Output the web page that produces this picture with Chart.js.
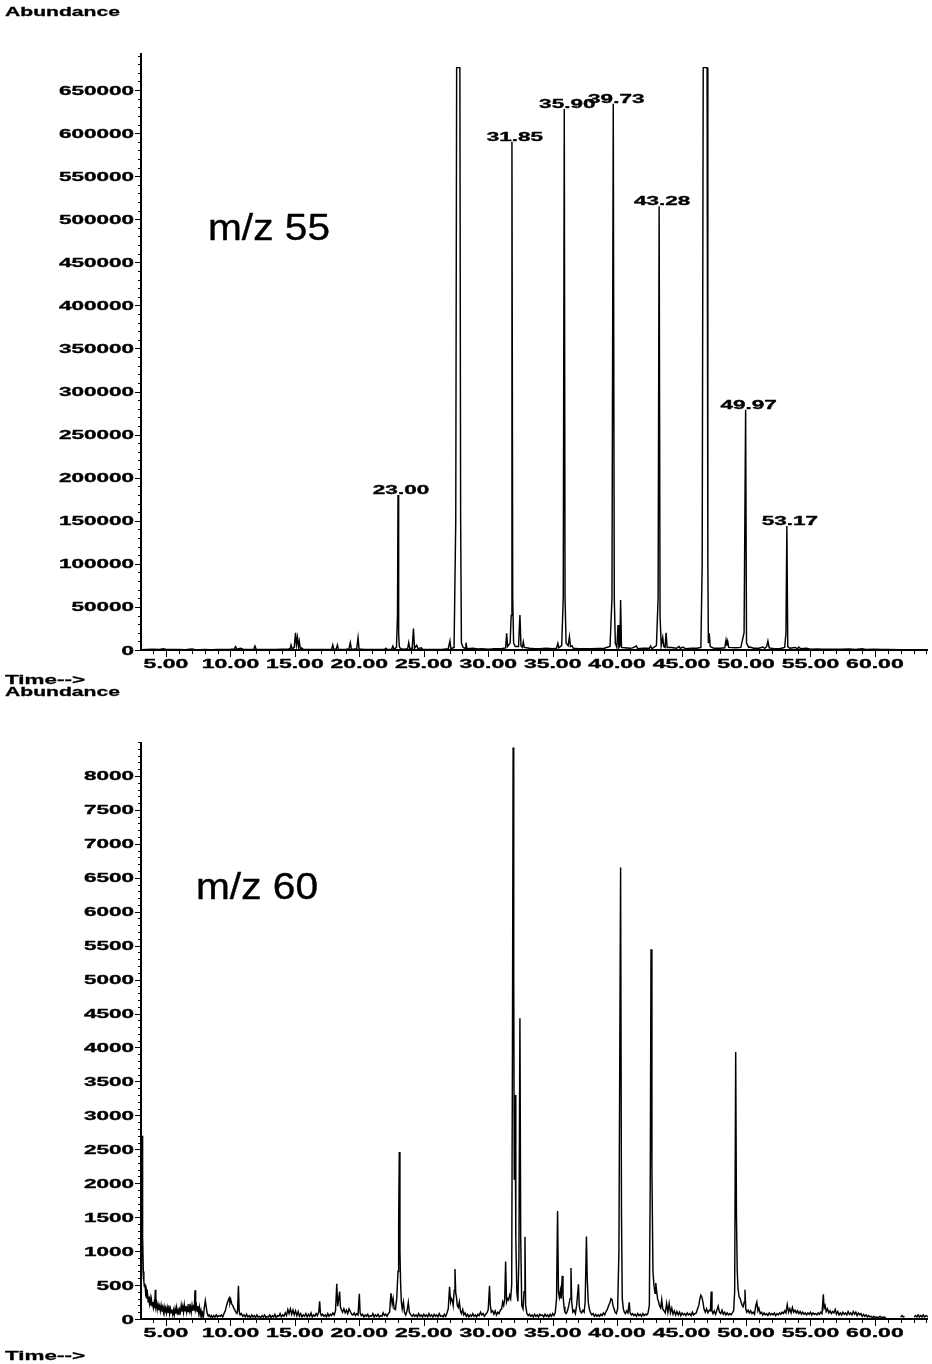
<!DOCTYPE html>
<html><head><meta charset="utf-8">
<script src="https://cdn.jsdelivr.net/npm/chart.js@4"></script>
<style>
html,body{margin:0;padding:0;background:#fff;}
#wrap{position:relative;width:932px;height:1364px;overflow:hidden;}
canvas{position:absolute;left:0;top:0;}
</style></head><body>
<div id="wrap">
<canvas id="c55" width="932" height="1364"></canvas>
<canvas id="c60" width="932" height="1364"></canvas>
</div>
<script>
// ---------------- DATA ----------------
const timeMin = 3.06, timeMax = 64.12;
const xTickValues = [5,10,15,20,25,30,35,40,45,50,55,60];
const xTickLabels = ["5.00","10.00","15.00","20.00","25.00","30.00","35.00","40.00","45.00","50.00","55.00","60.00"];

const yTicks55 = [0,50000,100000,150000,200000,250000,300000,350000,400000,450000,500000,550000,600000,650000];
const yTicks60 = [0,500,1000,1500,2000,2500,3000,3500,4000,4500,5000,5500,6000,6500,7000,7500,8000];

// m/z 55 trace : [time (min), abundance]
const trace55 = [
[3.06,300],[3.5,600],[4.0,800],[4.5,500],[4.8,1500],[5.0,700],[5.5,500],[6.0,600],[6.5,400],[7.0,1200],[7.2,500],[7.6,400],[8.0,700],[8.5,400],[9.0,500],[9.5,600],[10.0,800],[10.3,1200],[10.4,4000],[10.5,800],[10.8,2000],[11.0,600],[11.5,500],[11.8,900],[11.9,4600],[12.0,600],[12.5,500],[13.0,500],[13.5,600],[14.0,800],[14.5,1000],[14.65,2000],[14.7,5800],[14.8,1000],[14.95,3000],[15.05,20000],[15.12,6000],[15.2,14700],[15.28,4000],[15.34,10000],[15.42,1500],[15.52,2500],[15.65,800],[16.0,600],[16.5,600],[17.0,500],[17.5,700],[17.85,1000],[17.94,5800],[18.02,800],[18.2,1000],[18.3,5800],[18.38,800],[18.7,700],[19.0,900],[19.2,1500],[19.3,8500],[19.38,1000],[19.6,1200],[19.8,1500],[19.9,14300],[19.98,1200],[20.3,800],[20.7,600],[21.0,600],[21.5,500],[21.95,800],[22.07,2000],[22.15,700],[22.5,900],[22.6,4600],[22.68,800],[22.88,3000],[22.96,40000],[23.0,180000],[23.05,20000],[23.1,4000],[23.2,1500],[23.5,1000],[23.75,1500],[23.83,8500],[23.92,1500],[24.1,2000],[24.2,24800],[24.28,2000],[24.45,5400],[24.55,1500],[24.8,2500],[24.9,800],[25.5,700],[26.0,700],[26.5,800],[26.9,1500],[27.03,10500],[27.1,1500],[27.35,3000],[27.48,150000],[27.55,676000],[27.8,676000],[27.86,150000],[27.92,8000],[28.05,3000],[28.2,2000],[28.27,8500],[28.35,1500],[28.8,2000],[29.2,1200],[29.5,1500],[30.0,1000],[30.5,1500],[31.0,1500],[31.35,2500],[31.43,19400],[31.5,4000],[31.7,8000],[31.78,40000],[31.84,590000],[31.9,60000],[31.97,8000],[32.1,4000],[32.35,4000],[32.46,40700],[32.54,5000],[32.65,3000],[32.72,9300],[32.8,3000],[33.2,2000],[33.6,1500],[34.0,1500],[34.5,2000],[35.0,1500],[35.3,2000],[35.4,7700],[35.48,2500],[35.7,5000],[35.82,60000],[35.9,628000],[35.96,60000],[36.04,8000],[36.2,5000],[36.3,15500],[36.38,4000],[36.5,5000],[36.6,2000],[37.0,1500],[37.5,1500],[38.0,1500],[38.5,1800],[39.0,2000],[39.45,4000],[39.6,60000],[39.7,634000],[39.78,60000],[39.86,8000],[39.98,3000],[40.07,29000],[40.14,3000],[40.22,5000],[40.27,58000],[40.34,3000],[40.6,2500],[41.0,2000],[41.2,2500],[41.5,4600],[41.6,1500],[42.0,2000],[42.5,2000],[42.6,4600],[42.7,1500],[43.05,5000],[43.18,60000],[43.26,515000],[43.33,40000],[43.42,5000],[43.54,14700],[43.62,4000],[43.72,3000],[43.8,20100],[43.88,3000],[44.2,3000],[44.6,2000],[44.8,4000],[44.9,2000],[45.1,3500],[45.3,1500],[45.8,2000],[46.2,2000],[46.5,3000],[46.6,100000],[46.68,676000],[46.98,676000],[47.04,100000],[47.08,8000],[47.15,19400],[47.22,4000],[47.5,2000],[48.0,2000],[48.35,2500],[48.45,11600],[48.52,5000],[48.58,10000],[48.66,3000],[49.2,2500],[49.6,3000],[49.85,20000],[49.97,279000],[50.04,8000],[50.2,3000],[50.3,3500],[50.6,2000],[51.0,2000],[51.3,3500],[51.45,2000],[51.6,4000],[51.7,10500],[51.8,2500],[52.2,1500],[52.6,1500],[53.0,3000],[53.1,20000],[53.17,144000],[53.24,4000],[53.4,2000],[53.8,3000],[54.0,1500],[54.1,3500],[54.25,1500],[54.7,2000],[55.0,1000],[55.5,1200],[56.0,1000],[56.5,800],[57.0,800],[57.5,1000],[58.0,1200],[58.5,600],[59.0,1500],[59.3,600],[60.0,800],[60.5,600],[61.0,500],[62.0,400],[63.0,300],[64.12,300]
];

// labelled peaks of m/z 55
const peakTimes55  = [23.00, 31.84, 35.90, 39.70, 43.26, 49.97, 53.17];
const peakValues55 = [180000, 590000, 628000, 634000, 515000, 279000, 144000];
const peakLabels55 = ["23.00","31.85","35.90","39.73","43.28","49.97","53.17"];

// m/z 60 trace : [time (min), abundance]  (null = gap in trace)
const trace60 = [
[3.06,600],[3.10,800],[3.14,1500],[3.17,2700],[3.20,1200],[3.24,700],[3.28,560],[3.32,480],[3.37,520],[3.42,380],[3.47,430],[3.52,300],[3.57,360],[3.62,250],[3.67,330],[3.72,230],[3.77,300],[3.82,200],[3.87,280],[3.92,190],[3.97,250],[4.02,170],[4.07,230],[4.12,160],[4.17,430],[4.21,180],[4.27,230],[4.32,140],[4.38,210],[4.44,130],[4.50,190],[4.56,120],[4.62,200],[4.68,110],[4.74,170],[4.80,100],[4.86,180],[4.92,110],[4.98,160],[5.04,90],[5.10,170],[5.16,100],[5.22,200],[5.28,80],[5.34,150],[5.40,90],[5.46,140],[5.52,70],[5.58,130],[5.64,60],[5.70,150],[5.76,80],[5.82,170],[5.88,90],[5.94,130],[6.00,60],[6.06,140],[6.12,100],[6.18,200],[6.24,110],[6.30,180],[6.36,100],[6.42,210],[6.48,120],[6.54,190],[6.60,100],[6.66,170],[6.72,110],[6.78,220],[6.84,120],[6.90,180],[6.96,100],[7.02,200],[7.08,120],[7.14,180],[7.20,150],[7.25,425],[7.30,150],[7.36,200],[7.42,110],[7.48,190],[7.54,90],[7.60,170],[7.66,60],[7.72,120],[7.78,40],[7.84,80],[7.90,30],[7.96,150],[8.05,270],[8.12,180],[8.20,80],[8.28,40],[8.36,60],[8.44,30],[8.52,50],[8.60,20],[8.70,50],[8.80,30],[8.90,60],[9.00,30],[9.10,50],[9.20,40],[9.30,60],[9.40,30],[9.50,80],[9.60,120],[9.70,200],[9.80,260],[9.90,310],[9.96,240],[10.02,290],[10.10,220],[10.18,200],[10.26,160],[10.34,130],[10.42,100],[10.50,80],[10.55,120],[10.62,490],[10.68,110],[10.75,60],[10.85,80],[10.95,40],[11.05,60],[11.15,30],[11.25,70],[11.35,30],[11.45,50],[11.55,20],[11.65,60],[11.75,30],[11.85,50],[11.95,20],[12.05,60],[12.15,30],[12.25,40],[12.35,20],[12.45,50],[12.55,30],[12.65,60],[12.75,20],[12.85,40],[12.95,30],[13.05,60],[13.15,20],[13.25,50],[13.35,30],[13.45,70],[13.55,20],[13.65,50],[13.75,40],[13.85,80],[13.95,30],[14.05,60],[14.15,40],[14.25,90],[14.35,50],[14.45,140],[14.55,80],[14.65,150],[14.75,70],[14.85,130],[14.95,60],[15.05,120],[15.15,50],[15.25,110],[15.35,40],[15.45,80],[15.55,30],[15.65,60],[15.75,40],[15.85,80],[15.95,30],[16.05,70],[16.15,40],[16.25,90],[16.35,30],[16.45,60],[16.55,40],[16.65,80],[16.75,50],[16.85,100],[16.92,260],[16.98,90],[17.05,50],[17.15,70],[17.25,40],[17.35,60],[17.45,30],[17.55,80],[17.65,40],[17.75,70],[17.85,50],[17.95,90],[18.05,60],[18.15,120],[18.25,520],[18.32,190],[18.40,300],[18.47,405],[18.53,180],[18.60,140],[18.70,100],[18.80,150],[18.90,90],[19.00,130],[19.10,80],[19.20,150],[19.30,110],[19.40,70],[19.50,60],[19.60,90],[19.70,50],[19.80,80],[19.90,60],[20.00,370],[20.06,90],[20.15,50],[20.25,70],[20.35,30],[20.45,60],[20.55,40],[20.65,70],[20.75,30],[20.85,50],[20.95,40],[21.05,80],[21.15,30],[21.25,60],[21.35,40],[21.45,70],[21.55,30],[21.65,50],[21.75,40],[21.85,90],[21.95,50],[22.05,70],[22.15,40],[22.25,80],[22.35,100],[22.45,380],[22.55,220],[22.62,300],[22.70,150],[22.80,140],[22.90,300],[23.00,700],[23.05,1400],[23.10,2460],[23.15,1000],[23.20,540],[23.26,250],[23.33,150],[23.42,250],[23.50,100],[23.60,60],[23.70,120],[23.80,245],[23.88,100],[24.00,60],[24.10,40],[24.20,70],[24.30,40],[24.40,60],[24.50,30],[24.60,80],[24.70,40],[24.80,60],[24.90,30],[25.00,70],[25.10,40],[25.20,60],[25.30,30],[25.40,80],[25.50,40],[25.60,60],[25.70,30],[25.80,70],[25.90,40],[26.00,60],[26.10,30],[26.20,80],[26.30,40],[26.40,50],[26.50,30],[26.60,70],[26.70,40],[26.80,90],[26.90,150],[27.00,475],[27.08,250],[27.15,300],[27.22,270],[27.28,200],[27.36,420],[27.42,735],[27.48,380],[27.54,320],[27.60,200],[27.68,170],[27.76,250],[27.84,120],[27.92,80],[28.02,140],[28.10,60],[28.20,90],[28.30,40],[28.40,70],[28.50,30],[28.60,60],[28.70,40],[28.80,80],[28.90,40],[29.00,60],[29.10,30],[29.20,70],[29.30,50],[29.40,100],[29.50,60],[29.60,80],[29.70,40],[29.80,70],[29.90,90],[30.00,140],[30.10,490],[30.16,200],[30.24,100],[30.34,120],[30.44,70],[30.54,120],[30.64,60],[30.74,100],[30.84,80],[30.94,130],[31.04,150],[31.12,250],[31.20,200],[31.28,300],[31.35,845],[31.42,250],[31.50,300],[31.58,280],[31.66,350],[31.74,300],[31.82,500],[31.88,4000],[31.93,8420],[31.98,5000],[32.02,2050],[32.08,3300],[32.14,1200],[32.22,400],[32.30,260],[32.38,900],[32.46,4430],[32.52,1200],[32.60,200],[32.70,150],[32.78,400],[32.85,1210],[32.90,200],[33.00,80],[33.10,50],[33.20,70],[33.30,40],[33.40,60],[33.50,30],[33.60,70],[33.70,40],[33.80,60],[33.90,30],[34.00,70],[34.10,50],[34.20,60],[34.30,30],[34.40,70],[34.50,40],[34.60,60],[34.70,30],[34.80,70],[34.90,40],[35.00,80],[35.10,50],[35.20,90],[35.30,300],[35.38,1590],[35.45,400],[35.52,320],[35.60,420],[35.66,300],[35.74,635],[35.80,350],[35.88,180],[35.95,100],[36.05,80],[36.15,120],[36.25,200],[36.35,300],[36.42,750],[36.48,250],[36.56,100],[36.66,130],[36.76,80],[36.86,200],[37.00,510],[37.06,200],[37.14,110],[37.24,90],[37.34,130],[37.44,100],[37.52,250],[37.62,1215],[37.68,600],[37.76,250],[37.84,150],[37.94,90],[38.04,60],[38.14,80],[38.24,40],[38.34,70],[38.44,40],[38.54,60],[38.64,40],[38.74,70],[38.84,50],[38.94,90],[39.04,60],[39.14,110],[39.24,140],[39.34,200],[39.44,240],[39.52,300],[39.60,290],[39.68,200],[39.76,150],[39.84,100],[39.94,80],[40.04,150],[40.14,1000],[40.27,6650],[40.34,1500],[40.40,300],[40.48,150],[40.56,100],[40.64,80],[40.74,120],[40.84,90],[40.94,245],[41.00,100],[41.10,60],[41.20,80],[41.30,50],[41.40,70],[41.50,40],[41.60,80],[41.70,50],[41.80,70],[41.90,40],[42.00,80],[42.10,50],[42.20,70],[42.30,60],[42.40,90],[42.50,200],[42.57,2000],[42.63,5446],[42.70,2200],[42.78,700],[42.86,490],[42.94,380],[43.00,530],[43.06,420],[43.14,300],[43.22,250],[43.30,190],[43.38,160],[43.46,285],[43.54,150],[43.64,120],[43.74,90],[43.84,230],[43.94,100],[44.04,230],[44.14,90],[44.24,160],[44.34,70],[44.44,120],[44.54,60],[44.64,110],[44.74,60],[44.84,100],[44.94,50],[45.04,90],[45.14,60],[45.24,80],[45.34,50],[45.44,90],[45.54,60],[45.64,80],[45.74,50],[45.84,100],[45.94,60],[46.04,80],[46.14,90],[46.24,150],[46.34,200],[46.42,300],[46.50,350],[46.58,320],[46.66,250],[46.74,150],[46.84,100],[46.94,150],[47.04,90],[47.14,130],[47.24,120],[47.30,405],[47.36,120],[47.44,80],[47.54,120],[47.64,70],[47.74,130],[47.84,190],[47.94,100],[48.04,80],[48.14,130],[48.24,70],[48.34,100],[48.44,60],[48.54,90],[48.64,60],[48.74,80],[48.84,60],[48.94,90],[49.04,120],[49.12,400],[49.20,3934],[49.26,1500],[49.32,700],[49.38,450],[49.46,330],[49.54,300],[49.62,250],[49.70,200],[49.78,180],[49.86,250],[49.92,430],[49.98,150],[50.06,100],[50.16,130],[50.26,90],[50.36,120],[50.46,80],[50.56,100],[50.66,70],[50.76,200],[50.84,250],[50.92,120],[51.00,160],[51.10,80],[51.20,100],[51.30,60],[51.40,90],[51.50,60],[51.60,80],[51.70,50],[51.80,90],[51.90,60],[52.00,80],[52.10,60],[52.20,90],[52.30,50],[52.40,80],[52.50,60],[52.60,90],[52.70,70],[52.80,100],[52.90,80],[53.00,120],[53.10,90],[53.20,210],[53.30,100],[53.40,150],[53.50,90],[53.60,170],[53.70,100],[53.80,130],[53.90,90],[54.00,120],[54.10,80],[54.20,110],[54.30,70],[54.40,100],[54.50,70],[54.60,90],[54.70,60],[54.80,90],[54.90,70],[55.00,100],[55.10,60],[55.20,90],[55.30,70],[55.40,80],[55.50,60],[55.60,90],[55.70,70],[55.80,100],[55.90,80],[56.00,365],[56.06,160],[56.14,200],[56.22,110],[56.32,150],[56.42,90],[56.52,120],[56.62,80],[56.72,110],[56.82,90],[56.92,140],[57.02,70],[57.12,110],[57.22,60],[57.32,90],[57.42,60],[57.52,100],[57.62,70],[57.72,90],[57.82,60],[57.92,110],[58.02,70],[58.12,90],[58.22,60],[58.32,110],[58.42,70],[58.52,100],[58.62,50],[58.72,90],[58.82,60],[58.92,80],[59.02,40],[59.12,70],[59.22,40],[59.32,60],[59.42,30],[59.52,50],[59.62,30],[59.72,40],[59.82,20],[59.92,40],[60.02,20],[60.12,30],[60.25,20],[60.40,40],[60.55,20],[60.70,30],[60.85,20],[60.95,null],[61.95,null],[62.00,30],[62.10,50],[62.20,30],[62.30,40],[62.40,null],[63.00,null],[63.05,30],[63.15,50],[63.25,30],[63.35,60],[63.45,30],[63.55,50],[63.65,30],[63.75,60],[63.85,30],[63.95,50],[64.05,40],[64.12,30]
];

// ---------------- DRAWING ----------------
const FONT = '"Liberation Sans", Arial, Helvetica, sans-serif';

function sText(ctx, text, x, y, align, sx, size, weight, targetW, strokeW) {
  ctx.save();
  ctx.font = (weight || 'bold') + ' ' + size + 'px ' + FONT;
  ctx.textBaseline = 'alphabetic';
  ctx.textAlign = 'left';
  const mw = ctx.measureText(text).width;
  if (targetW) sx = targetW / mw;
  const w = mw * sx;
  const left = align === 'center' ? x - w / 2 : (align === 'right' ? x - w : x);
  ctx.translate(left, y);
  ctx.scale(sx, 1);
  ctx.fillStyle = '#000';
  ctx.fillText(text, 0, 0);
  if (strokeW) { ctx.strokeStyle = '#000'; ctx.lineWidth = strokeW; ctx.lineJoin = 'round'; ctx.strokeText(text, 0, 0); }
  ctx.restore();
}

const gcAxes = {
  id: 'gcAxes',
  afterDatasetsDraw(chart, args, o) {
    const ctx = chart.ctx, xs = chart.scales.x, ys = chart.scales.y, a = chart.chartArea;
    ctx.save();
    ctx.strokeStyle = '#000';
    ctx.lineWidth = 2;
    ctx.beginPath();
    ctx.moveTo(a.left, a.top); ctx.lineTo(a.left, a.bottom); ctx.lineTo(a.right, a.bottom);
    ctx.stroke();
    ctx.lineWidth = 1;
    const nMinor = Math.floor(ys.max / o.yMinor);
    ctx.beginPath();
    for (let i = 1; i <= nMinor; i++) {
      const y = Math.round(ys.getPixelForValue(i * o.yMinor)) + 0.5;
      ctx.moveTo(a.left - 3, y); ctx.lineTo(a.left + 1, y);
    }
    ctx.stroke();
    ctx.beginPath();
    o.yTicks.forEach(v => {
      const y = Math.round(ys.getPixelForValue(v)) + 0.5;
      ctx.moveTo(a.left - 6, y); ctx.lineTo(a.left, y);
    });
    ctx.stroke();
    o.yTicks.forEach(v => {
      const y = ys.getPixelForValue(v);
      sText(ctx, String(v), a.left - 7, y + 4.5, 'right', 1.8, 12.5, 'bold', null, 0.35);
    });
    ctx.beginPath();
    for (let m = Math.ceil(xs.min); m <= Math.floor(xs.max); m++) {
      const x = Math.round(xs.getPixelForValue(m)) + 0.5;
      const len = (m % 5 === 0) ? 7 : 4;
      ctx.moveTo(x, a.bottom); ctx.lineTo(x, a.bottom + len);
    }
    ctx.stroke();
    o.xTicks.forEach((v, i) => {
      const x = xs.getPixelForValue(v);
      sText(ctx, o.xLabels[i], x, a.bottom + 18, 'center', 1.84, 12.5, 'bold', null, 0.35);
    });
    if (o.peakT) {
      o.peakT.forEach((t, i) => {
        const x = xs.getPixelForValue(t) + 3;
        const y = ys.getPixelForValue(o.peakV[i]) - 1;
        sText(ctx, o.peakL[i], x, y, 'center', 1.8, 12.5, 'bold', null, 0.35);
      });
    }
    (o.texts || []).forEach(t => sText(ctx, t.text, t.x, t.y, t.align || 'left', t.sx || 1, t.size, t.weight, t.w, t.stroke));
    ctx.restore();
  }
};

function makeChart(id, trace, cfg) {
  return new Chart(document.getElementById(id), {
    type: 'line',
    data: { datasets: [{
      data: trace.map(p => ({ x: p[0], y: p[1] })),
      borderColor: '#000', borderWidth: 1.45, pointRadius: 0, tension: 0, fill: false, spanGaps: false
    }]},
    options: {
      responsive: false, animation: false, devicePixelRatio: 1,
      layout: { padding: { left: 0, right: 4, top: cfg.top, bottom: cfg.bottom } },
      plugins: { legend: { display: false }, tooltip: { enabled: false }, gcAxes: cfg.axes },
      scales: {
        x: { type: 'linear', min: timeMin, max: timeMax, grid: { display: false }, border: { display: false },
             ticks: { display: false }, afterFit(s) { s.height = 20; } },
        y: { type: 'linear', min: 0, max: cfg.ymax, grid: { display: false }, border: { display: false },
             ticks: { display: false }, afterFit(s) { s.width = 141; } }
      }
    },
    plugins: [gcAxes]
  });
}

makeChart('c55', trace55, {
  top: 53, bottom: 1364 - 650 - 20, ymax: 693000,
  axes: {
    yMinor: 10000, yTicks: yTicks55, xTicks: xTickValues, xLabels: xTickLabels,
    peakT: peakTimes55, peakV: peakValues55, peakL: peakLabels55,
    texts: [
      { text: 'Abundance', x: 5, y: 16, size: 13, weight: 'bold', w: 115, stroke: 0.3 },
      { text: 'Time-->', x: 5, y: 684, size: 13, weight: 'bold', w: 80, stroke: 0.3 },
      { text: 'm/z 55', x: 208, y: 240, size: 36, weight: 'normal', w: 122, stroke: 0.4 }
    ]
  }
});

makeChart('c60', trace60, {
  top: 742, bottom: 1364 - 1319 - 20, ymax: 8500,
  axes: {
    yMinor: 100, yTicks: yTicks60, xTicks: xTickValues, xLabels: xTickLabels,
    texts: [
      { text: 'Abundance', x: 5, y: 696, size: 13, weight: 'bold', w: 115, stroke: 0.3 },
      { text: 'Time-->', x: 5, y: 1360, size: 13, weight: 'bold', w: 80, stroke: 0.3 },
      { text: 'm/z 60', x: 196, y: 899, size: 36, weight: 'normal', w: 122, stroke: 0.4 }
    ]
  }
});
</script>
</body></html>
